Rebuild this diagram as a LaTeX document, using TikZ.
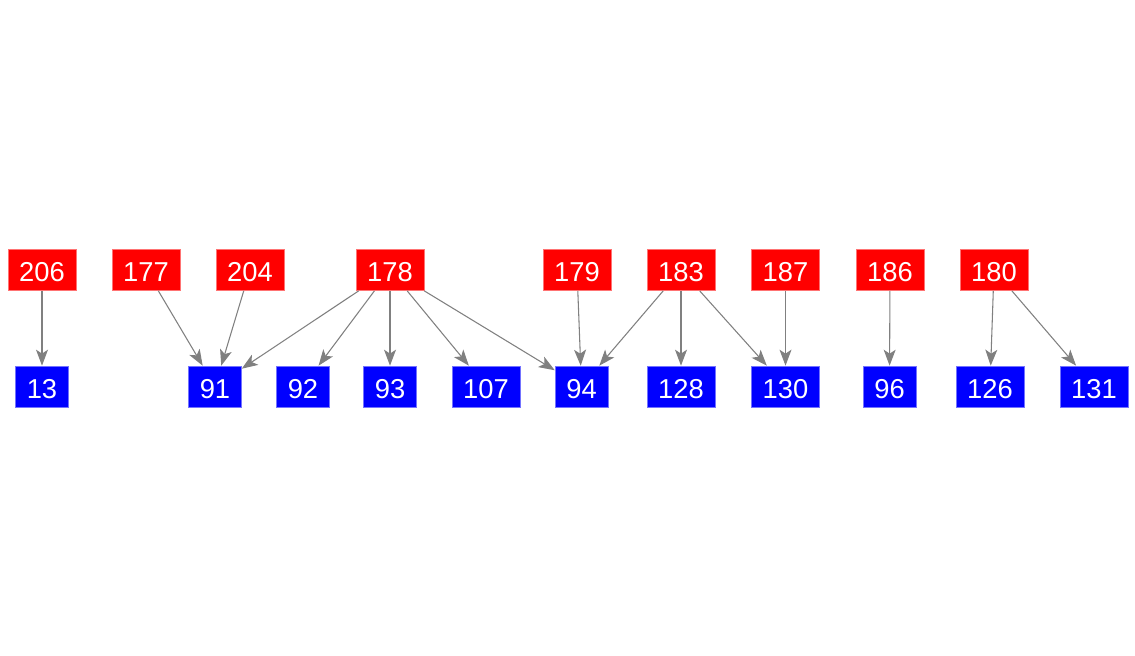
\documentclass[tikz,border=0pt]{standalone}
\usepackage{fontspec}
\setmainfont{Liberation Sans}
\usetikzlibrary{arrows.meta}

\begin{document}
\begin{tikzpicture}[x=0.75pt,y=-0.75pt,
    srcbox/.style={rectangle,fill=red,draw=red!55!white,line width=0.5pt,text=white,
        font=\fontsize{20.5}{24}\selectfont,text height=17.7pt,text depth=0pt,
        minimum height=30.75pt,inner xsep=8.4pt,inner ysep=0pt},
    dstbox/.style={srcbox,fill=blue,draw=blue!55!white},
    link/.style={draw=gray,line width=0.8pt,-{Stealth[length=12pt,width=9pt,inset=3pt]}}]
        \useasboundingbox (0,0) rectangle (1135,656);

        % red source nodes
        \node[srcbox] (s206) at (42,270) {206};
        \node[srcbox] (s177) at (146,270) {177};
        \node[srcbox] (s204) at (250,270) {204};
        \node[srcbox] (s178) at (390,270) {178};
        \node[srcbox] (s179) at (577,270) {179};
        \node[srcbox] (s183) at (681,270) {183};
        \node[srcbox] (s187) at (785.5,270) {187};
        \node[srcbox] (s186) at (890,270) {186};
        \node[srcbox] (s180) at (994,270) {180};

        % blue target nodes
        \node[dstbox] (t13) at (42,386.5) {13};
        \node[dstbox] (t91) at (215,386.5) {91};
        \node[dstbox] (t92) at (303,386.5) {92};
        \node[dstbox] (t93) at (390,386.5) {93};
        \node[dstbox] (t107) at (486,386.5) {107};
        \node[dstbox] (t94) at (581.5,386.5) {94};
        \node[dstbox] (t128) at (681,386.5) {128};
        \node[dstbox] (t130) at (785.5,386.5) {130};
        \node[dstbox] (t96) at (889.5,386.5) {96};
        \node[dstbox] (t126) at (990,386.5) {126};
        \node[dstbox] (t131) at (1094,386.5) {131};

        % links
        \draw[link] (s206) -- (t13);
        \draw[link] (s177) -- (t91);
        \draw[link] (s204) -- (t91);
        \draw[link] (s178) -- (t91);
        \draw[link] (s178) -- (t92);
        \draw[link] (s178) -- (t93);
        \draw[link] (s178) -- (t107);
        \draw[link] (s178) -- (t94);
        \draw[link] (s179) -- (t94);
        \draw[link] (s183) -- (t94);
        \draw[link] (s183) -- (t128);
        \draw[link] (s183) -- (t130);
        \draw[link] (s187) -- (t130);
        \draw[link] (s186) -- (t96);
        \draw[link] (s180) -- (t126);
        \draw[link] (s180) -- (t131);
    \end{tikzpicture}
\end{document}
